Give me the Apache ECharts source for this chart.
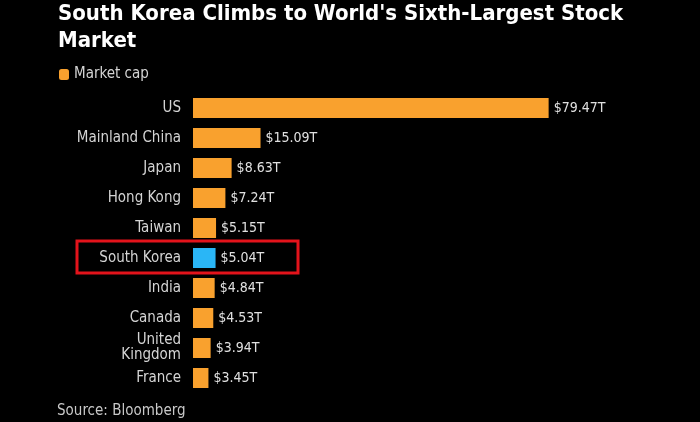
<!DOCTYPE html>
<html>
<head>
<meta charset="utf-8">
<script src="https://cdn.jsdelivr.net/npm/echarts@6/dist/echarts.min.js"></script>
<style>
  html, body { margin: 0; padding: 0; background: #000; }
  #main { width: 700px; height: 422px; }
</style>
</head>
<body>
<div id="main"></div>
<script>
var countries = ['US', 'Mainland China', 'Japan', 'Hong Kong', 'Taiwan', 'South Korea', 'India', 'Canada', 'United\nKingdom', 'France'];
var marketCap = [79.47, 15.09, 8.63, 7.24, 5.15, 5.04, 4.84, 4.53, 3.94, 3.45];
var highlight = 'South Korea';

var FONT = '"DejaVu Sans Condensed", "DejaVu Sans", sans-serif';
var ORANGE = '#f9a12e';
var BLUE = '#2ab6f6';

var myChart = echarts.init(document.getElementById('main'));

var barData = [];
for (var i = 0; i < marketCap.length; i++) {
    barData.push({
        value: marketCap[i],
        itemStyle: { color: countries[i] === highlight ? BLUE : ORANGE }
    });
}

var option = {
    backgroundColor: '#000',
    animation: false,
    title: {
        text: 'South Korea Climbs to World\'s Sixth-Largest Stock\nMarket',
        left: 53,
        top: -4,
        textStyle: {
            color: '#fff',
            fontFamily: FONT,
            fontWeight: 'bold',
            fontSize: 22,
            lineHeight: 27
        }
    },
    legend: {
        data: ['Market cap'],
        left: 54,
        top: 62,
        icon: 'roundRect',
        itemWidth: 10,
        itemHeight: 11,
        itemGap: 8,
        textStyle: { color: '#d4d4d4', fontFamily: FONT, fontSize: 15 }
    },
    grid: {
        left: 193,
        top: 93,
        width: 358,
        height: 300
    },
    xAxis: {
        type: 'value',
        min: 0,
        max: 80,
        show: false
    },
    yAxis: {
        type: 'category',
        inverse: true,
        data: countries,
        axisLine: { show: false },
        axisTick: { show: false },
        axisLabel: {
            color: '#d4d4d4',
            fontFamily: FONT,
            fontSize: 15,
            lineHeight: 15,
            margin: 12
        }
    },
    series: [{
        name: 'Market cap',
        type: 'bar',
        barWidth: 20,
        itemStyle: { color: ORANGE },
        label: {
            show: true,
            position: 'right',
            distance: 5,
            color: '#e0e0e0',
            fontFamily: FONT,
            fontSize: 14,
            formatter: function (p) { return '$' + p.value.toFixed(2) + 'T'; }
        },
        data: barData
    }],
    graphic: [
        {
            type: 'rect',
            shape: { x: 77, y: 241, width: 221, height: 32 },
            style: { fill: 'none', stroke: '#e3131b', lineWidth: 3 }
        },
        {
            type: 'text',
            left: 57,
            top: 404,
            style: {
                text: 'Source: Bloomberg',
                fill: '#c8c8c8',
                font: '15px ' + FONT
            }
        }
    ]
};

myChart.setOption(option);
</script>
</body>
</html>
